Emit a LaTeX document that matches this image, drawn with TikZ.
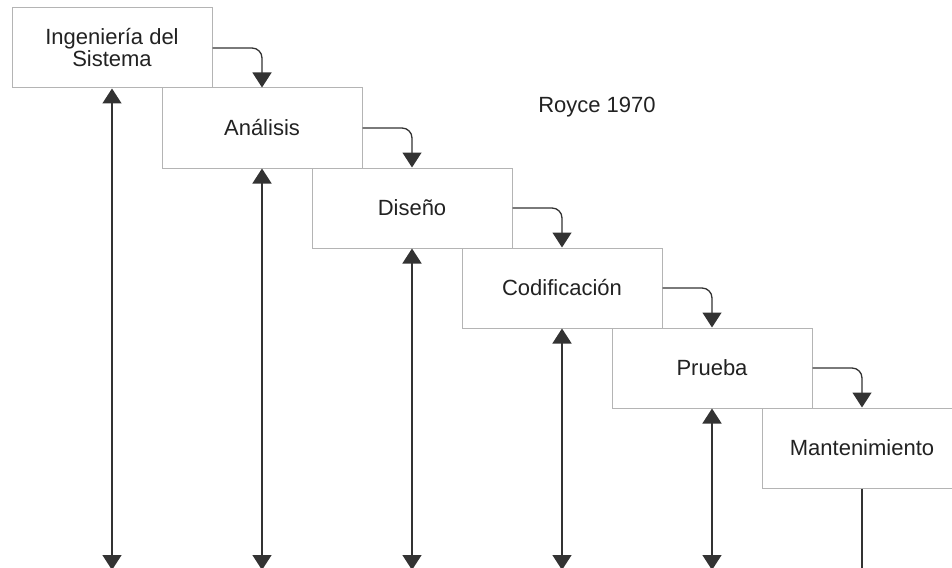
\documentclass[tikz,border=0pt]{standalone}
\usepackage{fontspec}
\setmainfont{Liberation Sans}
\usetikzlibrary{arrows.meta}
\definecolor{boxgray}{HTML}{B4B4B4}
\definecolor{linegray}{HTML}{333333}
\definecolor{txtgray}{HTML}{222222}
\tikzset{
  tip/.style={Triangle[width=19pt,length=15pt]},
  phase/.style={draw=boxgray, line width=1pt, fill=white, rectangle,
    minimum width=200pt, minimum height=80pt, inner sep=0pt,
    text=txtgray, align=center,
    font=\fontsize{22pt}{22pt}\selectfont},
  flowarrow/.style={draw=linegray, line width=1.3pt, rounded corners=10pt,
    -{Triangle[width=19pt,length=15pt]}},
  backline/.style={draw=linegray, line width=1.5pt,
    {Triangle[width=19pt,length=15pt]}-{Triangle[width=19pt,length=15pt]}},
  endline/.style={draw=linegray, line width=1.5pt},
  caption/.style={text=txtgray, font=\fontsize{22pt}{22pt}\selectfont, inner sep=0pt}
}
\begin{document}
\begin{tikzpicture}[x=1pt,y=-1pt]
\useasboundingbox (0,0) rectangle (952,567);
\clip (0,0) rectangle (952,567);
\node[phase] (b1) at (112,48) {Ingeniería del\\Sistema};
\node[phase] (b2) at (262,128) {Análisis};
\node[phase] (b3) at (412,208) {Diseño};
\node[phase] (b4) at (562,288) {Codificación};
\node[phase] (b5) at (712,368) {Prueba};
\node[phase] (b6) at (862,448) {Mantenimiento};
\node[caption] (royce) at (597,107) {Royce 1970};
\coordinate (bot) at (0,570);
\draw[flowarrow] (b1.east) -| (b2.north);
\draw[flowarrow] (b2.east) -| (b3.north);
\draw[flowarrow] (b3.east) -| (b4.north);
\draw[flowarrow] (b4.east) -| (b5.north);
\draw[flowarrow] (b5.east) -| (b6.north);
\draw[backline] (b1.south) -- (b1.south |- bot);
\draw[backline] (b2.south) -- (b2.south |- bot);
\draw[backline] (b3.south) -- (b3.south |- bot);
\draw[backline] (b4.south) -- (b4.south |- bot);
\draw[backline] (b5.south) -- (b5.south |- bot);
\draw[endline] (b6.south) -- (b6.south |- bot);
\end{tikzpicture}
\end{document}
